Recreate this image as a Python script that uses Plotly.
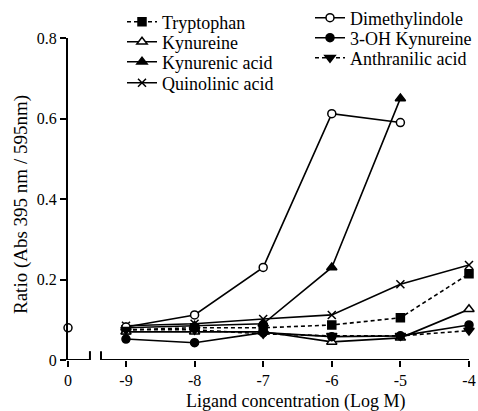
import plotly.graph_objects as go

x_log = [-9, -8, -7, -6, -5, -4]
x_zero_pos = -9.845
x_tick_vals = [x_zero_pos, -9, -8, -7, -6, -5, -4]
x_tick_text = ["0", "-9", "-8", "-7", "-6", "-5", "-4"]
y_tick_vals = [0, 0.2, 0.4, 0.6, 0.8]
y_tick_text = ["0", "0.2", "0.4", "0.6", "0.8"]

tryptophan = [0.075, 0.08, 0.08, 0.087, 0.105, 0.214]
kynureine = [0.07, 0.07, 0.07, 0.045, 0.055, 0.126]
kynurenic_acid = [0.08, 0.085, 0.09, 0.23, 0.65]
quinolinic_acid = [0.085, 0.09, 0.102, 0.112, 0.188, 0.236]
dimethylindole = [0.082, 0.112, 0.23, 0.612, 0.59]
oh_kynureine = [0.052, 0.043, 0.068, 0.058, 0.06, 0.087]
anthranilic_acid = [0.075, 0.075, 0.065, 0.06, 0.06, 0.073]
control_x = [x_zero_pos]
control_y = [0.08]

FONT = "Liberation Serif"
BLACK = "black"
W, H = 478, 411
L, R, T, B = 68, 9, 38, 51
PW, PH = W - L - R, H - T - B

def px_x(px):
    return (px - L) / PW

def px_y(py):
    return (H - B - py) / PH

fig = go.Figure()

# one legend per entry so rows can sit exactly where the reference has them
legend_pos = {
    "legend": (122, 22), "legend2": (122, 42), "legend3": (122, 62), "legend4": (122, 83),
    "legend5": (310, 18), "legend6": (310, 38), "legend7": (310, 58),
}

def add(name, ys, symbol, dash, legend, filled=True, size=8):
    fig.add_trace(go.Scatter(
        x=x_log[:len(ys)], y=ys, name=name, mode="lines+markers",
        line=dict(color=BLACK, width=1.6, dash=dash),
        marker=dict(symbol=symbol, size=size,
                    color=BLACK if filled else "white",
                    line=dict(color=BLACK, width=1.5)),
        legend=legend, cliponaxis=False,
    ))

add("Tryptophan", tryptophan, "square", "4px,3px", "legend")
add("Kynureine", kynureine, "triangle-up", "solid", "legend2", filled=False, size=9)
add("Kynurenic acid", kynurenic_acid, "triangle-up", "solid", "legend3", size=9)
add("Quinolinic acid", quinolinic_acid, "x-thin", "solid", "legend4", size=8)
add("Dimethylindole", dimethylindole, "circle", "solid", "legend5", filled=False, size=8)
add("3-OH Kynureine", oh_kynureine, "circle", "solid", "legend6", size=8)
add("Anthranilic acid", anthranilic_acid, "triangle-down", "4px,3px", "legend7", size=9)

fig.add_trace(go.Scatter(
    x=control_x, y=control_y, mode="markers", showlegend=False,
    marker=dict(symbol="circle", size=8, color="white", line=dict(color=BLACK, width=1.5)),
    cliponaxis=False,
))

# x axis line with break
BREAK_L, BREAK_R = -9.525, -9.364
shapes = [
    dict(type="line", xref="x", yref="y", x0=x_zero_pos, x1=BREAK_L, y0=0, y1=0,
         line=dict(color=BLACK, width=2), layer="below"),
    dict(type="line", xref="x", yref="y", x0=BREAK_R, x1=-4, y0=0, y1=0,
         line=dict(color=BLACK, width=2), layer="below"),
    dict(type="line", xref="x", yref="y", x0=BREAK_L, x1=BREAK_L, y0=-0.022, y1=0.022,
         line=dict(color=BLACK, width=2), layer="below"),
    dict(type="line", xref="x", yref="y", x0=BREAK_R, x1=BREAK_R, y0=-0.022, y1=0.022,
         line=dict(color=BLACK, width=2), layer="below"),
]

layout_legends = {}
for key, (lx, ly) in legend_pos.items():
    layout_legends[key] = dict(x=px_x(lx), y=px_y(ly), xanchor="left", yanchor="middle",
                               bgcolor="rgba(0,0,0,0)", font=dict(family=FONT, size=18),
                               itemwidth=30, borderwidth=0)

fig.update_layout(
    width=W, height=H,
    margin=dict(l=L, r=R, t=T, b=B, autoexpand=False),
    plot_bgcolor="white", paper_bgcolor="white",
    font=dict(family=FONT, size=16, color=BLACK),
    shapes=shapes,
    xaxis=dict(range=[x_zero_pos, -4], tickvals=x_tick_vals, ticktext=x_tick_text,
               showgrid=False, zeroline=False, showline=False, automargin=False,
               ticks="outside", ticklen=6, tickwidth=2, tickcolor=BLACK,
               ticklabeloverflow="allow",
               tickfont=dict(family=FONT, size=16)),
    yaxis=dict(range=[0, 0.8], tickvals=y_tick_vals, ticktext=y_tick_text,
               showgrid=False, zeroline=False, showline=True, linewidth=2, linecolor=BLACK,
               automargin=False,
               ticks="outside", ticklen=6, tickwidth=2, tickcolor=BLACK,
               tickfont=dict(family=FONT, size=16)),
    annotations=[
        dict(text="Ligand concentration (Log M)", xref="x", yref="paper",
             x=-6.53, y=px_y(401), xanchor="center", yanchor="middle",
             showarrow=False, font=dict(family=FONT, size=18)),
        dict(text="Ratio (Abs 395 nm / 595nm)", xref="paper", yref="paper",
             x=px_x(21), y=px_y(205), xanchor="center", yanchor="middle", textangle=-90,
             showarrow=False, font=dict(family=FONT, size=19)),
    ],
    **layout_legends,
)

fig.write_html("out.html", config={"displayModeBar": False},
               post_script="document.body.style.margin='0';")
